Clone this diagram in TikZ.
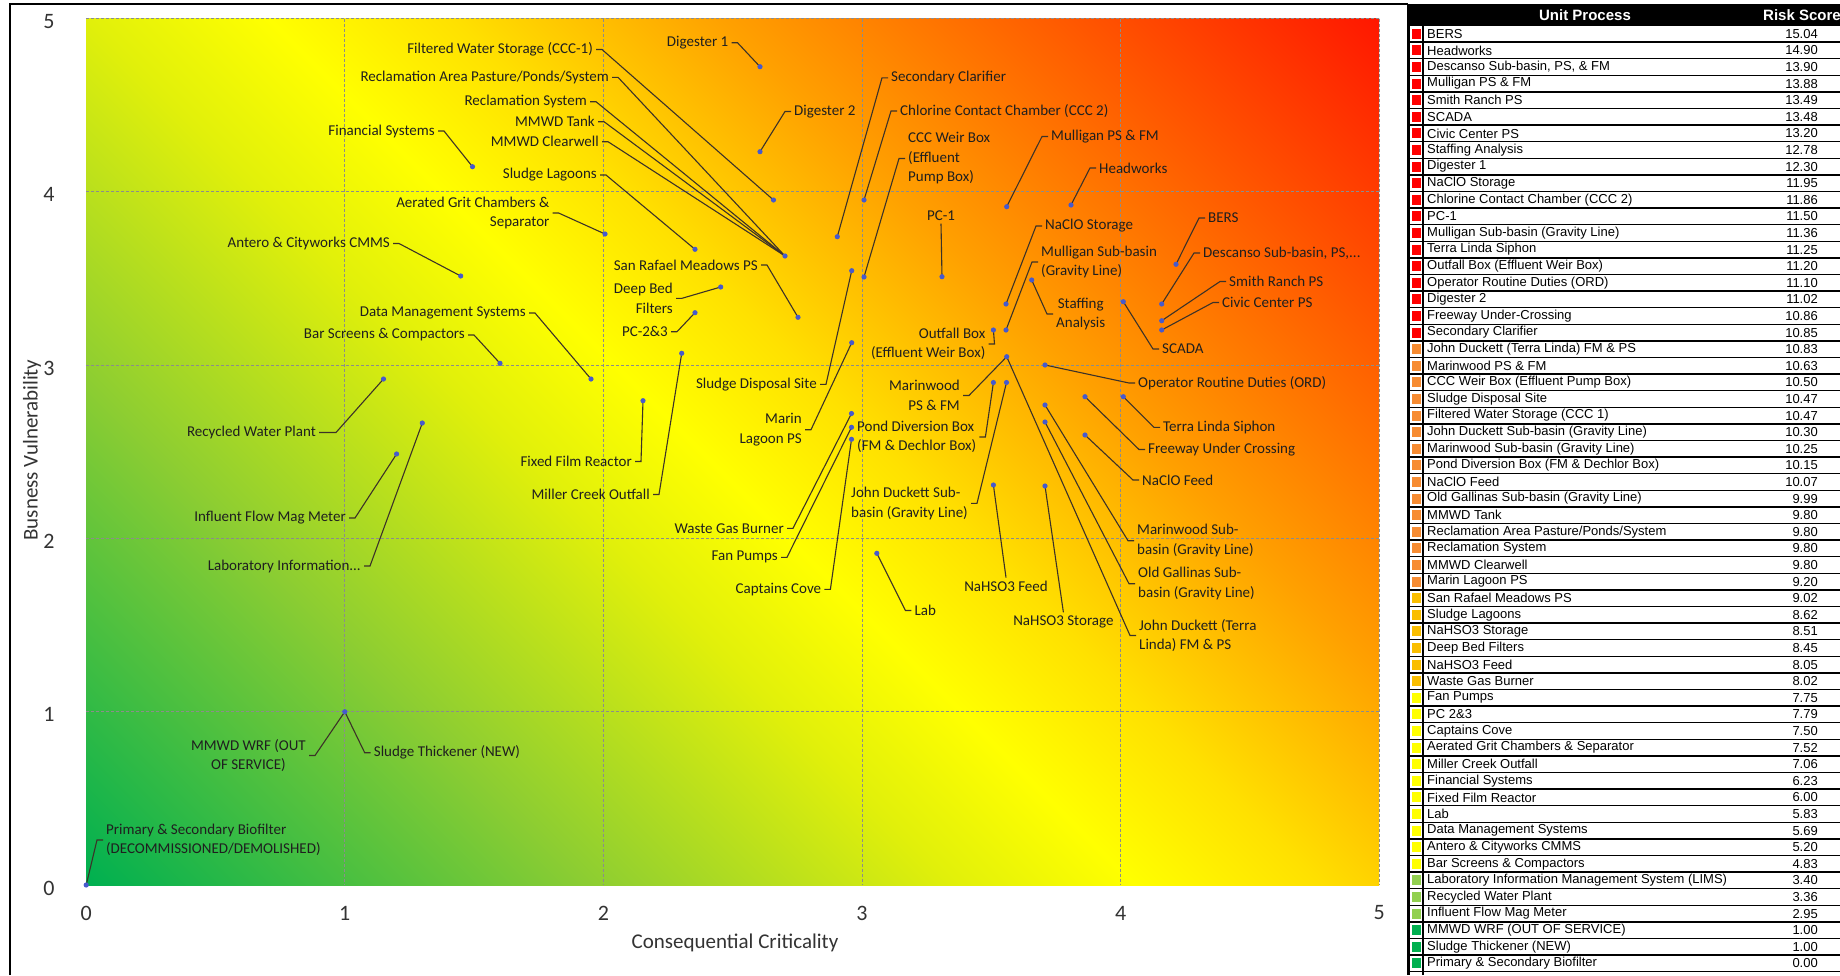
\documentclass[tikz,border=0pt]{standalone}
\usepackage{fontspec}
\setmainfont{Carlito}
\newfontfamily\tabfont{Liberation Sans}
\definecolor{cg}{RGB}{0,176,80}
\definecolor{clg}{RGB}{140,205,50}
\definecolor{cyg}{RGB}{225,240,10}
\definecolor{cy}{RGB}{255,255,0}
\definecolor{cyo}{RGB}{255,225,0}
\definecolor{co}{RGB}{255,160,0}
\definecolor{cor}{RGB}{255,90,0}
\definecolor{cr}{RGB}{255,20,0}
\definecolor{ptblue}{RGB}{70,90,205}
\definecolor{ldrcol}{RGB}{60,50,40}
\definecolor{sqred}{RGB}{255,0,0}
\definecolor{sqorg}{RGB}{247,140,50}
\definecolor{sqgold}{RGB}{250,190,0}
\definecolor{sqyel}{RGB}{255,255,0}
\definecolor{sqlgr}{RGB}{146,208,80}
\definecolor{sqgr}{RGB}{0,176,80}
\pgfdeclarehorizontalshading{riskshade}{100bp}{color(0bp)=(cg); color(14.6bp)=(cg); color(31bp)=(clg); color(43bp)=(cyg); color(49bp)=(cy); color(55bp)=(cyo); color(64bp)=(co); color(75bp)=(cor); color(86bp)=(cr); color(100bp)=(cr)}
\newcommand{\ldE}[2]{\draw[ldr] ([xshift=3pt]#1.east) -- ++(6,0) -- (#2);}
\newcommand{\ldW}[2]{\draw[ldr] ([xshift=-3pt]#1.west) -- ++(-6,0) -- (#2);}
\newcommand{\trow}[4]{%
  \pgfmathsetmacro{\yc}{33.8+16.6*(#1-1)}%
  \fill[#4] (1412,\yc-5) rectangle (1421,\yc+5);
  \node[tabtxt,anchor=west] (rn#1) at (1427,\yc) {#2};
  \node[tabtxt,anchor=east] (rs#1) at (1818,\yc) {#3};
  \draw[rowline] (1407,\yc+8.3) -- (1840,\yc+8.3);
}
\begin{document}
\begin{tikzpicture}[x=1pt,y=-1pt,
  lbl/.style={inner sep=0pt, font=\fontsize{15}{19.5}\selectfont, text=black!88},
  ldr/.style={draw=ldrcol, line width=1.1pt},
  ptm/.style={fill=ptblue},
  gridln/.style={draw=black!45, line width=0.8pt, dash pattern=on 3pt off 2pt},
  tick/.style={inner sep=0pt, font=\fontsize{22}{24}\selectfont, text=black!80},
  axt/.style={inner sep=0pt, font=\fontsize{21}{24}\selectfont, text=black!80},
  tabtxt/.style={inner sep=0pt, font=\tabfont\fontsize{13}{14}\selectfont},
  rowline/.style={draw=black, line width=1.5pt}]
\useasboundingbox (0,0) rectangle (1840,975);
\clip (0,0) rectangle (1840,975);
\fill[white] (0,0) rectangle (1840,975);

% ---------- chart frame ----------
\draw[line width=2.5pt] (10,975) -- (10,4) -- (1408,4);

% ---------- plot area ----------
\shade[shading=riskshade, shading angle=45] (86.2,18.5) rectangle (1379.2,885);
\foreach \i in {1,...,5} {
  \draw[gridln] ({86.2+258.6*\i},18.5) -- ({86.2+258.6*\i},885);
  \draw[gridln] (86.2,{885-173.3*\i}) -- (1379.2,{885-173.3*\i});
}

% ---------- tick labels and axis titles ----------
\foreach \i in {0,...,5} {
  \node[tick] (xt\i) at ({86.2+258.6*\i},913) {\i};
  \node[tick] (yt\i) at (49,{888-173.3*\i}) {\i};
}
\node[axt] (xtitle) at (735,943) {Consequential Criticality};
\node[axt,rotate=90] (ytitle) at (32,450) {Busness Vulnerability};

% ---------- data points ----------
\coordinate (bers) at (1176,264.3);
\coordinate (head) at (1071,205);
\coordinate (desc) at (1161.7,304);
\coordinate (mulps) at (1006.7,206.7);
\coordinate (smith) at (1161.7,320.7);
\coordinate (scada) at (1123.3,301.7);
\coordinate (civic) at (1161.7,330);
\coordinate (staff) at (1031.7,280);
\coordinate (dig1) at (760,66.7);
\coordinate (naclos) at (1006,304);
\coordinate (ccc2) at (864,200);
\coordinate (pc1) at (942,276.7);
\coordinate (mulsub) at (1006,330);
\coordinate (terra) at (1123.3,396.7);
\coordinate (outf) at (993.4,330);
\coordinate (ord) at (1045,365);
\coordinate (dig2) at (760,151.7);
\coordinate (free) at (1085,396.7);
\coordinate (sec) at (837.3,236.7);
\coordinate (jdtl) at (1006.7,356.7);
\coordinate (marps) at (1006.7,356.7);
\coordinate (weir) at (864,277);
\coordinate (sds) at (851.7,270.7);
\coordinate (filt) at (773.5,200);
\coordinate (jdsub) at (1006.5,382.5);
\coordinate (marsub) at (1045,405);
\coordinate (pond) at (993.4,382.5);
\coordinate (naclof) at (1085,435);
\coordinate (oldg) at (1045,422);
\coordinate (mmwd) at (785,256);
\coordinate (mlag) at (851.7,342.7);
\coordinate (srm) at (798,317.3);
\coordinate (slag) at (695,249.3);
\coordinate (hso3s) at (1045,486);
\coordinate (deep) at (720.7,287);
\coordinate (hso3f) at (993.4,485);
\coordinate (wgb) at (851.5,413.5);
\coordinate (fan) at (851.5,427.3);
\coordinate (pc23) at (695,312.7);
\coordinate (capt) at (851.5,439.3);
\coordinate (agc) at (605,234);
\coordinate (mill) at (681.7,353.3);
\coordinate (fin) at (472.5,166.7);
\coordinate (ffr) at (643,400.7);
\coordinate (lab) at (876.8,553.3);
\coordinate (dms) at (591,379);
\coordinate (ant) at (460.7,276);
\coordinate (bar) at (500,363.3);
\coordinate (lims) at (422.3,423);
\coordinate (rwp) at (383.5,379);
\coordinate (ifm) at (396.6,454);
\coordinate (wrf) at (344.8,711.7);
\coordinate (bio) at (86.2,885);

% ---------- labels ----------
\node[lbl,anchor=west] (Lbers) at (1208,218) {BERS};
\node[lbl,anchor=west] (Lhead) at (1099,168) {Headworks};
\node[lbl,anchor=west] (Ldesc) at (1203,253) {Descanso Sub-basin, PS,...};
\node[lbl,anchor=west] (Lmulps) at (1051,136.5) {Mulligan PS \& FM};
\node[lbl,anchor=west] (Lsmith) at (1229,281.5) {Smith Ranch PS};
\node[lbl,anchor=west] (Lscada) at (1162,349) {SCADA};
\node[lbl,anchor=west] (Lcivic) at (1222,302.5) {Civic Center PS};
\node[lbl,anchor=west,align=center] (Lstaff) at (1056,314) {Staffing\\Analysis};
\node[lbl,anchor=east] (Ldig1) at (728.5,42.7) {Digester 1};
\node[lbl,anchor=west] (Lnaclos) at (1045,226) {NaClO Storage};
\node[lbl,anchor=west] (Lccc2) at (900,111) {Chlorine Contact Chamber (CCC 2)};
\node[lbl] (Lpc1) at (941,215.5) {PC-1};
\node[lbl,anchor=west,align=left] (Lmulsub) at (1041,262) {Mulligan Sub-basin\\(Gravity Line)};
\node[lbl,anchor=west] (Lterra) at (1163,427.3) {Terra Linda Siphon};
\node[lbl,anchor=east,align=right] (Loutf) at (985.5,344) {Outfall Box\\(Effluent Weir Box)};
\node[lbl,anchor=west] (Lord) at (1138,383) {Operator Routine Duties (ORD)};
\node[lbl,anchor=west] (Ldig2) at (794,111.5) {Digester 2};
\node[lbl,anchor=west] (Lfree) at (1148,449.5) {Freeway Under Crossing};
\node[lbl,anchor=west] (Lsec) at (891,77.8) {Secondary Clarifier};
\node[lbl,anchor=west,align=left] (Ljdtl) at (1139,635.5) {John Duckett (Terra\\Linda) FM \& PS};
\node[lbl,anchor=east,align=right] (Lmarps) at (960,395.5) {Marinwood\\PS \& FM};
\node[lbl,anchor=west,align=left] (Lweir) at (908,158.5) {CCC Weir Box\\(Effluent\\Pump Box)};
\node[lbl,anchor=east] (Lsds) at (817,384.3) {Sludge Disposal Site};
\node[lbl,anchor=east] (Lfilt) at (593,49.5) {Filtered Water Storage (CCC-1)};
\node[lbl,anchor=east,align=left] (Ljdsub) at (968,503.3) {John Duckett Sub-\\basin (Gravity Line)};
\node[lbl,anchor=west,align=left] (Lmarsub) at (1137,540.7) {Marinwood Sub-\\basin (Gravity Line)};
\node[lbl,anchor=west,align=left] (Lpond) at (857,437) {Pond Diversion Box\\(FM \& Dechlor Box)};
\node[lbl,anchor=west] (Lnaclof) at (1142,480) {NaClO Feed};
\node[lbl,anchor=west,align=left] (Loldg) at (1138,583.7) {Old Gallinas Sub-\\basin (Gravity Line)};
\node[lbl,anchor=east] (Ltank) at (595,121.7) {MMWD Tank};
\node[lbl,anchor=east] (Lrarea) at (609,77.3) {Reclamation Area Pasture/Ponds/System};
\node[lbl,anchor=east] (Lrsys) at (587,101.7) {Reclamation System};
\node[lbl,anchor=east] (Lclear) at (599,141.7) {MMWD Clearwell};
\node[lbl,anchor=east,align=right] (Lmlag) at (802,429.7) {Marin\\Lagoon PS};
\node[lbl,anchor=east] (Lsrm) at (758,265) {San Rafael Meadows PS};
\node[lbl,anchor=east] (Lslag) at (597,175) {Sludge Lagoons};
\node[lbl] (Lhso3s) at (1063.4,621.7) {NaHSO3 Storage};
\node[lbl,anchor=east,align=right] (Ldeep) at (673,298.3) {Deep Bed\\Filters};
\node[lbl] (Lhso3f) at (1006,586) {NaHSO3 Feed};
\node[lbl,anchor=east] (Lwgb) at (784,528.3) {Waste Gas Burner};
\node[lbl,anchor=east] (Lfan) at (778,557.3) {Fan Pumps};
\node[lbl,anchor=east] (Lpc23) at (668,331.7) {PC-2\&3};
\node[lbl,anchor=east] (Lcapt) at (821.4,589.3) {Captains Cove};
\node[lbl,anchor=east,align=right] (Lagc) at (549.6,213) {Aerated Grit Chambers \&\\Separator};
\node[lbl,anchor=east] (Lmill) at (650,494.5) {Miller Creek Outfall};
\node[lbl,anchor=east] (Lfin) at (435,131) {Financial Systems};
\node[lbl,anchor=east] (Lffr) at (632,461.5) {Fixed Film Reactor};
\node[lbl,anchor=west] (Llab) at (914.4,610.5) {Lab};
\node[lbl,anchor=east] (Ldms) at (526,313) {Data Management Systems};
\node[lbl,anchor=east] (Lant) at (390,243.5) {Antero \& Cityworks CMMS};
\node[lbl,anchor=east] (Lbar) at (465,335) {Bar Screens \& Compactors};
\node[lbl,anchor=east] (Llims) at (361,566) {Laboratory Information...};
\node[lbl,anchor=east] (Lrwp) at (316,432.5) {Recycled Water Plant};
\node[lbl,anchor=east] (Lifm) at (346,518) {Influent Flow Mag Meter};
\node[lbl,anchor=east,align=center] (Lwrf) at (306,755.5) {MMWD WRF (OUT\\OF SERVICE)};
\node[lbl,anchor=west] (Lthick) at (373.7,752.7) {Sludge Thickener (NEW)};
\node[lbl,anchor=west,align=left] (Lbio) at (106,840) {Primary \& Secondary Biofilter\\(DECOMMISSIONED/DEMOLISHED)};

% ---------- leader lines ----------
\ldW{Lbers}{bers}
\ldW{Lhead}{head}
\ldW{Ldesc}{desc}
\ldW{Lmulps}{mulps}
\ldW{Lsmith}{smith}
\ldW{Lscada}{scada}
\ldW{Lcivic}{civic}
\ldW{Lstaff}{staff}
\ldE{Ldig1}{dig1}
\ldW{Lnaclos}{naclos}
\ldW{Lccc2}{ccc2}
\draw[ldr] ([yshift=-3pt]Lpc1.south) -- (pc1);
\ldW{Lmulsub}{mulsub}
\ldW{Lterra}{terra}
\ldE{Loutf}{outf}
\ldW{Lord}{ord}
\ldW{Ldig2}{dig2}
\ldW{Lfree}{free}
\ldW{Lsec}{sec}
\ldW{Ljdtl}{jdtl}
\ldE{Lmarps}{marps}
\ldW{Lweir}{weir}
\ldE{Lsds}{sds}
\ldE{Lfilt}{filt}
\ldE{Ljdsub}{jdsub}
\ldW{Lmarsub}{marsub}
\ldE{Lpond}{pond}
\ldW{Lnaclof}{naclof}
\ldW{Loldg}{oldg}
\ldE{Ltank}{mmwd}
\ldE{Lrarea}{mmwd}
\ldE{Lrsys}{mmwd}
\ldE{Lclear}{mmwd}
\ldE{Lmlag}{mlag}
\ldE{Lsrm}{srm}
\ldE{Lslag}{slag}
\draw[ldr] ([yshift=3pt]Lhso3s.north) -- (hso3s);
\ldE{Ldeep}{deep}
\draw[ldr] ([yshift=3pt]Lhso3f.north) -- (hso3f);
\ldE{Lwgb}{wgb}
\ldE{Lfan}{fan}
\ldE{Lpc23}{pc23}
\ldE{Lcapt}{capt}
\ldE{Lagc}{agc}
\ldE{Lmill}{mill}
\ldE{Lfin}{fin}
\ldE{Lffr}{ffr}
\ldW{Llab}{lab}
\ldE{Ldms}{dms}
\ldE{Lant}{ant}
\ldE{Lbar}{bar}
\ldE{Llims}{lims}
\draw[ldr] ([xshift=3pt]Lrwp.east) -- ++(17,0) -- (rwp);
\ldE{Lifm}{ifm}
\ldE{Lwrf}{wrf}
\ldW{Lthick}{wrf}
\ldW{Lbio}{bio}

% ---------- markers ----------
\foreach \p in {bers,head,desc,mulps,smith,scada,civic,staff,dig1,naclos,ccc2,pc1,mulsub,terra,outf,ord,dig2,free,sec,jdtl,weir,sds,filt,jdsub,marsub,pond,naclof,oldg,mmwd,mlag,srm,slag,hso3s,deep,hso3f,wgb,fan,pc23,capt,agc,mill,fin,ffr,lab,dms,ant,bar,lims,rwp,ifm,wrf,bio}
  \fill[ptm] (\p) circle[radius=2.6pt];

% ---------- table ----------
\fill[black] (1407,4) rectangle (1840,25.5);
\node[inner sep=0pt, text=white, font=\tabfont\bfseries\fontsize{15}{16}\selectfont] (hUP) at (1585,15) {Unit Process};
\node[inner sep=0pt, text=white, font=\tabfont\bfseries\fontsize{15}{16}\selectfont, anchor=west] (hRS) at (1763,15) {Risk Score};
\draw[rowline] (1407,25.5) -- (1840,25.5);
\trow{1}{BERS}{15.04}{sqred}
\trow{2}{Headworks}{14.90}{sqred}
\trow{3}{Descanso Sub-basin, PS, \& FM}{13.90}{sqred}
\trow{4}{Mulligan PS \& FM}{13.88}{sqred}
\trow{5}{Smith Ranch PS}{13.49}{sqred}
\trow{6}{SCADA}{13.48}{sqred}
\trow{7}{Civic Center PS}{13.20}{sqred}
\trow{8}{Staffing Analysis}{12.78}{sqred}
\trow{9}{Digester 1}{12.30}{sqred}
\trow{10}{NaClO Storage}{11.95}{sqred}
\trow{11}{Chlorine Contact Chamber (CCC 2)}{11.86}{sqred}
\trow{12}{PC-1}{11.50}{sqred}
\trow{13}{Mulligan Sub-basin (Gravity Line)}{11.36}{sqred}
\trow{14}{Terra Linda Siphon}{11.25}{sqred}
\trow{15}{Outfall Box (Effluent Weir Box)}{11.20}{sqred}
\trow{16}{Operator Routine Duties (ORD)}{11.10}{sqred}
\trow{17}{Digester 2}{11.02}{sqred}
\trow{18}{Freeway Under-Crossing}{10.86}{sqred}
\trow{19}{Secondary Clarifier}{10.85}{sqred}
\trow{20}{John Duckett (Terra Linda) FM \& PS}{10.83}{sqorg}
\trow{21}{Marinwood PS \& FM}{10.63}{sqorg}
\trow{22}{CCC Weir Box (Effluent Pump Box)}{10.50}{sqorg}
\trow{23}{Sludge Disposal Site}{10.47}{sqorg}
\trow{24}{Filtered Water Storage (CCC 1)}{10.47}{sqorg}
\trow{25}{John Duckett Sub-basin (Gravity Line)}{10.30}{sqorg}
\trow{26}{Marinwood Sub-basin (Gravity Line)}{10.25}{sqorg}
\trow{27}{Pond Diversion Box (FM \& Dechlor Box)}{10.15}{sqorg}
\trow{28}{NaClO Feed}{10.07}{sqorg}
\trow{29}{Old Gallinas Sub-basin (Gravity Line)}{9.99}{sqorg}
\trow{30}{MMWD Tank}{9.80}{sqorg}
\trow{31}{Reclamation Area Pasture/Ponds/System}{9.80}{sqorg}
\trow{32}{Reclamation System}{9.80}{sqorg}
\trow{33}{MMWD Clearwell}{9.80}{sqorg}
\trow{34}{Marin Lagoon PS}{9.20}{sqorg}
\trow{35}{San Rafael Meadows PS}{9.02}{sqgold}
\trow{36}{Sludge Lagoons}{8.62}{sqgold}
\trow{37}{NaHSO3 Storage}{8.51}{sqgold}
\trow{38}{Deep Bed Filters}{8.45}{sqgold}
\trow{39}{NaHSO3 Feed}{8.05}{sqgold}
\trow{40}{Waste Gas Burner}{8.02}{sqgold}
\trow{41}{Fan Pumps}{7.75}{sqyel}
\trow{42}{PC 2\&3}{7.79}{sqyel}
\trow{43}{Captains Cove}{7.50}{sqyel}
\trow{44}{Aerated Grit Chambers \& Separator}{7.52}{sqyel}
\trow{45}{Miller Creek Outfall}{7.06}{sqyel}
\trow{46}{Financial Systems}{6.23}{sqyel}
\trow{47}{Fixed Film Reactor}{6.00}{sqyel}
\trow{48}{Lab}{5.83}{sqyel}
\trow{49}{Data Management Systems}{5.69}{sqyel}
\trow{50}{Antero \& Cityworks CMMS}{5.20}{sqyel}
\trow{51}{Bar Screens \& Compactors}{4.83}{sqyel}
\trow{52}{Laboratory Information Management System (LIMS)}{3.40}{sqlgr}
\trow{53}{Recycled Water Plant}{3.36}{sqlgr}
\trow{54}{Influent Flow Mag Meter}{2.95}{sqlgr}
\trow{55}{MMWD WRF (OUT OF SERVICE)}{1.00}{sqgr}
\trow{56}{Sludge Thickener (NEW)}{1.00}{sqgr}
\trow{57}{Primary \& Secondary Biofilter}{0.00}{sqgr}
\draw[line width=1.5pt] (1423,25.5) -- (1423,975);
\draw[line width=3pt] (1408.5,4) -- (1408.5,975);
\end{tikzpicture}
\end{document}
